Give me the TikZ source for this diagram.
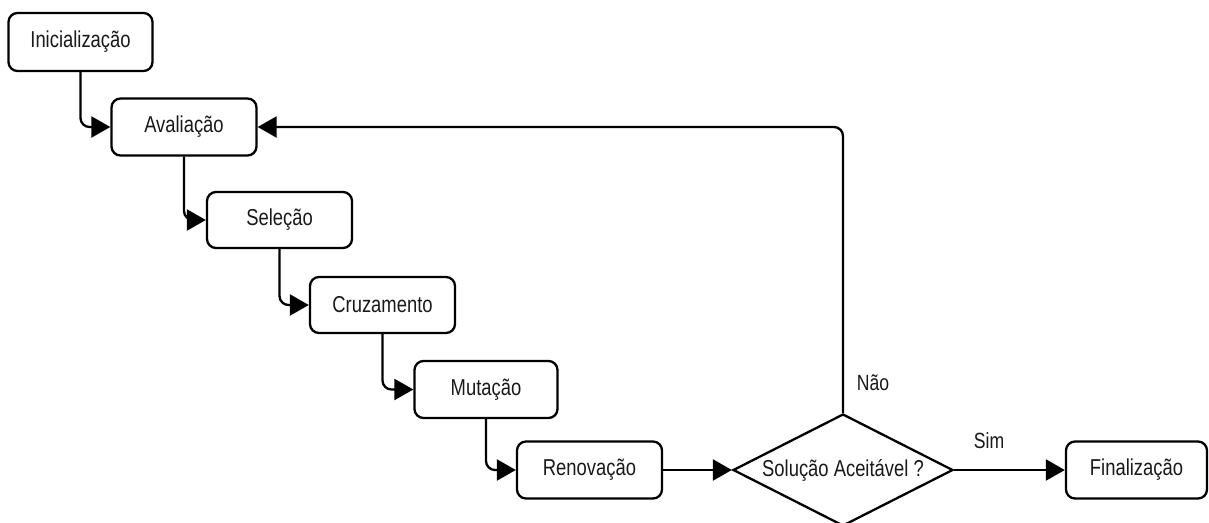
\documentclass[tikz,border=0pt]{standalone}
\usepackage{fontspec}
\usetikzlibrary{arrows.meta,shapes.geometric}
\newfontfamily\labfont[FakeStretch=0.8]{Liberation Sans}
\tikzset{
  stepbox/.style={draw, line width=2.3pt, rounded corners=9pt, minimum width=145pt, minimum height=57pt, inner sep=0pt, font=\labfont\fontsize{23}{25}\selectfont, text=black!90},
  decbox/.style={draw, line width=2.3pt, diamond, aspect=2, minimum width=220pt, minimum height=112pt, inner sep=0pt, font=\labfont\fontsize{23}{25}\selectfont, text=black!90},
  conn/.style={line width=2.3pt, rounded corners=9pt, -{Triangle[length=19pt,width=21pt]}},
  lbl/.style={font=\labfont\fontsize{22}{24}\selectfont, text=black!90, inner sep=0pt}
}
\begin{document}
\begin{tikzpicture}[x=1pt,y=-1pt]
\useasboundingbox (0,0) rectangle (1209,522);
\node[stepbox, minimum width=144pt, minimum height=58pt] (ini) at (80.5,42) {Inicialização};
\node[stepbox] (aval) at (184,127) {Avaliação};
\node[stepbox, minimum height=56pt] (sel) at (279.5,220) {Seleção};
\node[stepbox, minimum height=56pt] (cruz) at (382.5,305) {Cruzamento};
\node[stepbox, minimum width=143pt] (mut) at (486,389.5) {Mutação};
\node[stepbox] (ren) at (589.5,470) {Renovação};
\node[decbox] (dec) at (843,470) {Solução Aceitável ?};
\node[stepbox, minimum width=141pt] (fin) at (1136.5,470) {Finalização};
\draw[conn] (ini.south) |- (aval.west);
\draw[conn] (aval.south) |- (sel.west);
\draw[conn] (sel.south) |- (cruz.west);
\draw[conn] (cruz.south) |- (mut.west);
\draw[conn] (mut.south) |- (ren.west);
\draw[conn] (ren.east) -- (dec.west);
\draw[conn] (dec.east) -- (fin.west);
\draw[conn] (dec.north) |- (aval.east);
\node[lbl] (nao) at (873,383) {Não};
\node[lbl] (sim) at (989,441) {Sim};
\end{tikzpicture}
\end{document}
